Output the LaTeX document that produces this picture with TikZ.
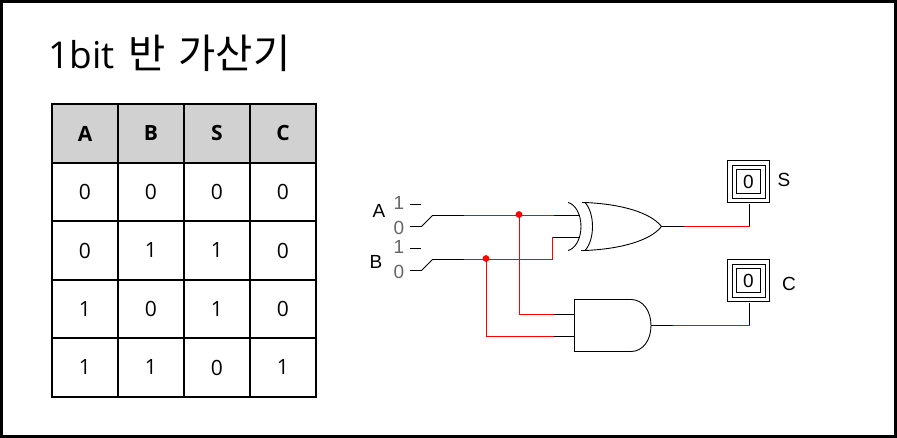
\documentclass[tikz,border=0pt]{standalone}
\usepackage{fontspec}
\setmainfont{Open Sans}
\newfontfamily\cjk{Noto Sans CJK KR}
\newfontfamily\gatelabel{Liberation Sans}

\begin{document}
\begin{tikzpicture}[x=1pt,y=-1pt]
    \tikzstyle{cell}=[draw=black,line width=1.6pt,minimum width=66pt,minimum height=58.6pt,inner sep=0pt,font=\fontsize{21}{24}\selectfont]
    \tikzstyle{head cell}=[cell,fill=black!18,font=\fontsize{21}{24}\selectfont\bfseries]
    \tikzstyle{wire}=[draw=black,line width=0.9pt]
    \tikzstyle{hot wire}=[draw=red,line width=0.9pt]
    \tikzstyle{gate}=[draw=black,line width=0.9pt]
    \tikzstyle{dot}=[circle,fill=red,minimum size=6.8pt,inner sep=0pt]
    \tikzstyle{lamp}=[draw=black,line width=0.9pt,inner sep=0pt]
    \tikzstyle{digit}=[inner sep=0pt,text=black!60,font=\gatelabel\fontsize{19}{20}\selectfont]
    \tikzstyle{annot}=[inner sep=0pt,font=\gatelabel\fontsize{19}{20}\selectfont]
    \useasboundingbox (0,0) rectangle (897,438);
    \draw[line width=3pt] (1.5,1.5) rectangle (895.5,436.5);

    \node[anchor=base west,inner sep=0pt,font=\fontsize{37}{44}\selectfont] (title) at (48,69) {1bit\hspace{14pt}{\cjk\fontsize{40.5}{44}\selectfont 반}\hspace{13pt}{\cjk\fontsize{40.5}{44}\selectfont 가산기}};

    % Draw the table
    \foreach \name/\x/\txt in {1/85/A,2/151/B,3/217/S,4/283/C}
        \node[head cell] (T-0-\name) at (\x,133.5) {\txt};
    \foreach \row/\y/\a/\b/\s/\c in {1/192/0/0/0/0,2/250.5/0/1/1/0,3/309/1/0/1/0,4/367.5/1/1/0/1} {
        \node[cell] (T-\row-1) at (85,\y) {\a};
        \node[cell] (T-\row-2) at (151,\y) {\b};
        \node[cell] (T-\row-3) at (217,\y) {\s};
        \node[cell] (T-\row-4) at (283,\y) {\c};
    }

    % Switches
    \node[annot] (A) at (379,211) {A};
    \node[annot] (B) at (376,262) {B};
    \node[digit] (A-1) at (399,203) {1};
    \node[digit] (A-0) at (399,228) {0};
    \node[digit] (B-1) at (399,247) {1};
    \node[digit] (B-0) at (399,272) {0};
    \coordinate (A1a) at (410,204.5);
    \coordinate (A1b) at (421,204.5);
    \coordinate (B1a) at (410,248.5);
    \coordinate (B1b) at (421,248.5);
    \coordinate (A0a) at (410,226.5);
    \coordinate (A0b) at (421.5,226.5);
    \coordinate (A0c) at (432.5,215.5);
    \coordinate (A0d) at (464,215.5);
    \coordinate (B0a) at (410,270.5);
    \coordinate (B0b) at (421.5,270.5);
    \coordinate (B0c) at (432.5,259.5);
    \coordinate (B0d) at (464,259.5);
    \draw[wire] (A1a) -- (A1b);
    \draw[wire] (B1a) -- (B1b);
    \draw[wire] (A0a) -- (A0b) -- (A0c) -- (A0d);
    \draw[wire] (B0a) -- (B0b) -- (B0c) -- (B0d);

    % Gates
    \coordinate (X-a) at (580,215.5);
    \coordinate (X-b) at (580,237.5);
    \coordinate (X-o) at (661.5,226.5);
    \coordinate (N-a) at (574.5,314.5);
    \coordinate (N-b) at (574.5,336.5);
    \coordinate (N-o) at (651,325.5);
    \draw[gate] (582,202.5) -- (585,202.5) .. controls (620,204) and (650,212) .. (X-o)
        .. controls (650,241) and (620,249) .. (585,250.5) -- (581,250.5);
    \draw[gate] (585,202.5) .. controls (590,208) and (592.5,217) .. (592.5,226.5)
        .. controls (592.5,236) and (590,245) .. (585,250.5);
    \draw[gate] (568,202.5) .. controls (575,204) and (581,214) .. (581,226.5)
        .. controls (581,239) and (575,249) .. (568,250.5);
    \draw[gate] (631,299.5) -- (574.5,299.5) -- (574.5,351.5) -- (631,351.5)
        .. controls (643,351.5) and (651,340) .. (N-o)
        .. controls (651,311) and (643,299.5) .. (631,299.5);

    % Wires
    \coordinate (Aj) at (519.5,215.5);
    \coordinate (Bj) at (486.5,259.5);
    \coordinate (Am) at (553.5,215.5);
    \coordinate (Bm) at (552.5,259.5);
    \coordinate (Bn) at (552.5,237.5);
    \coordinate (Ac) at (519.5,314.5);
    \coordinate (Bc) at (486.5,336.5);
    \coordinate (Ad) at (553.5,314.5);
    \coordinate (Bd) at (553.5,336.5);
    \draw[hot wire] (A0d) -- (Am);
    \draw[wire] (Am) -- (X-a);
    \draw[hot wire] (B0d) -- (Bm) -- (Bn);
    \draw[wire] (Bn) -- (X-b);
    \draw[hot wire] (Aj) -- (Ac) -- (Ad);
    \draw[wire] (Ad) -- (N-a);
    \draw[hot wire] (Bj) -- (Bc) -- (Bd);
    \draw[wire] (Bd) -- (N-b);
    \node[dot] (Aj-dot) at (519,214.5) {};
    \node[dot] (Bj-dot) at (486,258.5) {};

    % Outputs
    \foreach \name/\y in {S/181.5,C/280.5} {
        \node[lamp,minimum width=42pt,minimum height=42pt] (\name-outer) at (748.5,\y) {};
        \node[lamp,minimum width=33pt,minimum height=33pt] (\name-mid) at (748.5,\y) {};
        \node[lamp,minimum width=24pt,minimum height=24pt,font=\gatelabel\fontsize{19}{20}\selectfont] (\name-lamp) at (748.5,\y) {0};
    }
    \node[annot] (S) at (784,180) {S};
    \node[annot] (C) at (789,284) {C};
    \coordinate (Sa) at (684,226.5);
    \coordinate (Sb) at (749.5,226.5);
    \coordinate (Sc) at (749.5,204);
    \coordinate (Ca) at (673,325.5);
    \coordinate (Cb) at (749.5,325.5);
    \coordinate (Cc) at (749.5,303);
    \draw[wire] (X-o) -- (Sa);
    \draw[hot wire] (Sa) -- (Sb);
    \draw[wire] (Sb) -- (Sc);
    \draw[wire] (N-o) -- (Ca);
    \draw[hot wire] (Ca) -- (Cb);
    \draw[wire] (Cb) -- (Cc);
\end{tikzpicture}
\end{document}
